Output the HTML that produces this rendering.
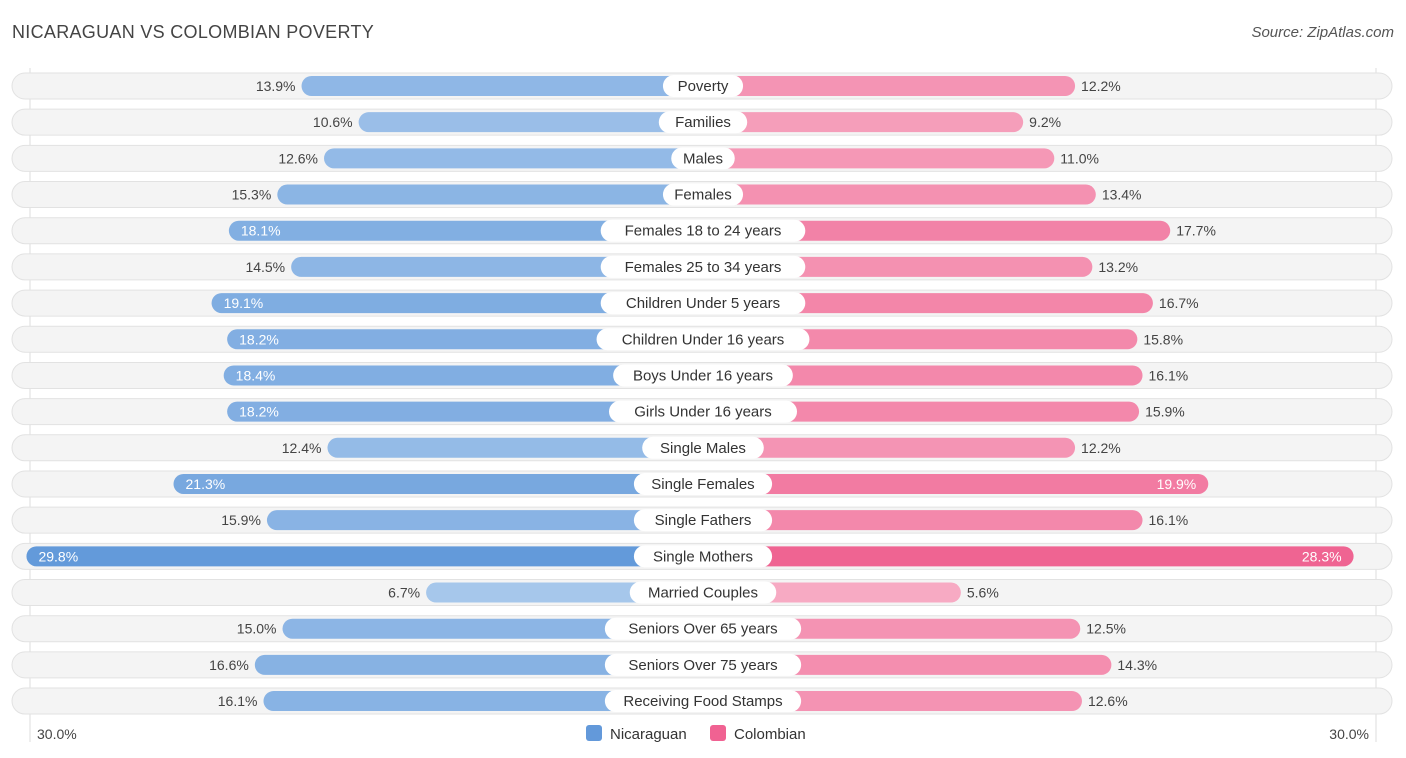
<!DOCTYPE html>
<html><head><meta charset="utf-8"><style>
body{margin:0;background:#fff;font-family:"Liberation Sans",Arial,sans-serif;}
#wrap{position:relative;width:1406px;height:758px;}
.title{position:absolute;left:12px;top:22px;font-size:18px;color:#444;letter-spacing:0.3px}
.src{position:absolute;right:12px;top:24px;font-size:15px;color:#555;font-style:italic}
</style></head><body>
<div id="wrap">
<div class="title">NICARAGUAN VS COLOMBIAN POVERTY</div>
<div class="src">Source: ZipAtlas.com</div>
<svg id="svg" width="1406" height="758" style="position:absolute;left:0;top:0"></svg>
</div>
<script>
const categories=["Poverty","Families","Males","Females","Females 18 to 24 years","Females 25 to 34 years","Children Under 5 years","Children Under 16 years","Boys Under 16 years","Girls Under 16 years","Single Males","Single Females","Single Fathers","Single Mothers","Married Couples","Seniors Over 65 years","Seniors Over 75 years","Receiving Food Stamps"];
const nicaraguan=[13.9,10.6,12.6,15.3,18.1,14.5,19.1,18.2,18.4,18.2,12.4,21.3,15.9,29.8,6.7,15.0,16.6,16.1];
const colombian=[12.2,9.2,11.0,13.4,17.7,13.2,16.7,15.8,16.1,15.9,12.2,19.9,16.1,28.3,5.6,12.5,14.3,12.6];
const axisTicks=["30.0%","30.0%"];
const NS="http://www.w3.org/2000/svg";
const svg=document.getElementById('svg');
const cx=703, base=161, k=17.3, y0=86, dy=36.18;
function xs(v){return base+v*k;}
function mk(t,a){const e=document.createElementNS(NS,t);for(const q in a)e.setAttribute(q,a[q]);svg.appendChild(e);return e;}
function mix(c1,c2,t){return 'rgb('+c1.map((c,i)=>Math.round(c+(c2[i]-c)*t)).join(',')+')';}
let g=mk('line',{x1:30,y1:68,x2:30,y2:742,stroke:'#ddd'});

g=mk('line',{x1:1376,y1:68,x2:1376,y2:742,stroke:'#ddd'});

categories.forEach((c,i)=>{
 const y=y0+i*dy;
 let r=mk('rect',{x:12,y:y-13,width:1380,height:26,rx:13,fill:'#f4f4f4',stroke:'#e2e2e2'});
 
 const nv=nicaraguan[i], cv=colombian[i];
 const tn=Math.min(1,Math.max(0,(nv-6)/22)), tc=Math.min(1,Math.max(0,(cv-5)/22));
 const wn=xs(nv), wc=xs(cv);
 let b=mk('rect',{x:cx-wn,y:y-10,width:wn,height:20,rx:10,fill:mix([168,200,236],[99,154,218],tn)});
 
 b=mk('rect',{x:cx,y:y-10,width:wc,height:20,rx:10,fill:mix([247,172,196],[239,100,146],tc)});
 
 const inN=nv>=18, inC=cv>=19;
 let t=mk('text',{x:inN?cx-wn+12:cx-wn-6,y:y+5,'font-size':14,fill:inN?'#fff':'#444','text-anchor':inN?'start':'end'});
 t.textContent=nv.toFixed(1)+'%';
 
 t=mk('text',{x:inC?cx+wc-12:cx+wc+6,y:y+5,'font-size':14,fill:inC?'#fff':'#444','text-anchor':inC?'end':'start'});
 t.textContent=cv.toFixed(1)+'%';
 
 const lw=c.length*8.3+22;
 let p=mk('rect',{x:cx-lw/2,y:y-11,width:lw,height:22,rx:11,fill:'#fff'});
 
 t=mk('text',{x:cx,y:y+5,'font-size':15,fill:'#333','text-anchor':'middle'});
 t.textContent=c;
 
});
let t=mk('text',{x:37,y:739,'font-size':14,fill:'#444'});t.textContent=axisTicks[0];

t=mk('text',{x:1369,y:739,'font-size':14,fill:'#444','text-anchor':'end'});t.textContent=axisTicks[1];

let l=mk('rect',{x:586,y:725,width:16,height:16,rx:3,fill:'#6399da'});

t=mk('text',{x:610,y:739,'font-size':15,fill:'#333'});t.textContent='Nicaraguan';

l=mk('rect',{x:710,y:725,width:16,height:16,rx:3,fill:'#f06292'});

t=mk('text',{x:734,y:739,'font-size':15,fill:'#333'});t.textContent='Colombian';

</script>
</body></html>
